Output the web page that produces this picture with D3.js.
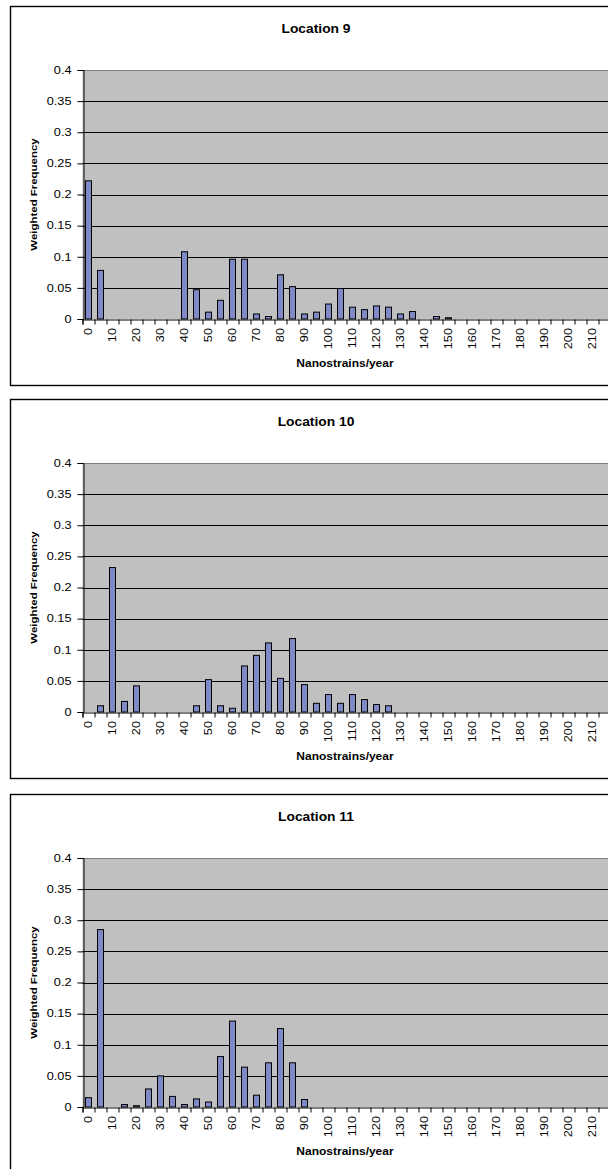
<!DOCTYPE html>
<html><head><meta charset="utf-8">
<script src="https://cdn.jsdelivr.net/npm/d3@7/dist/d3.min.js"></script>
<style>
body{margin:0;background:#fff}
svg{display:block}
text{font-family:"Liberation Sans",Arial,sans-serif;fill:#000}
</style>
</head><body>
<svg id="chart" width="608" height="1169"></svg>
<script>
// ---- data ----
const categories = [0,5,10,15,20,25,30,35,40,45,50,55,60,65,70,75,80,85,90,95,100,105,110,115,120,125,130,135,140,145,150,155,160,165,170,175,180,185,190,195,200,205,210,215];
const xTickLabels = [0,10,20,30,40,50,60,70,80,90,100,110,120,130,140,150,160,170,180,190,200,210];
const yTickValues = [0,0.05,0.1,0.15,0.2,0.25,0.3,0.35,0.4];
const yTickLabels = ["0","0.05","0.1","0.15","0.2","0.25","0.3","0.35","0.4"];
const titles = ["Location 9","Location 10","Location 11"];
const xTitle = "Nanostrains/year";
const yTitle = "Weighted Frequency";

const location9 = [0.222,0.078,0,0,0,0,0,0,0.108,0.047,0.011,0.030,0.096,0.096,0.008,0.004,0.071,0.052,0.008,0.011,0.024,0.049,0.019,0.015,0.021,0.019,0.008,0.012,0,0.004,0.002,0,0,0,0,0,0,0,0,0,0,0,0,0];
const location10 = [0,0.010,0.232,0.017,0.042,0,0,0,0,0.010,0.052,0.010,0.006,0.074,0.091,0.111,0.054,0.118,0.044,0.014,0.028,0.014,0.028,0.020,0.012,0.010,0,0,0,0,0,0,0,0,0,0,0,0,0,0,0,0,0,0];
const location11 = [0.015,0.285,0,0.004,0.002,0.029,0.050,0.017,0.004,0.013,0.008,0.081,0.138,0.064,0.019,0.071,0.126,0.071,0.012,0,0,0,0,0,0,0,0,0,0,0,0,0,0,0,0,0,0,0,0,0,0,0,0,0];
const seriesList = [location9, location10, location11];

// ---- layout ----
const panelTops = [6, 399, 794];
const panelLeft = 10, panelRight = 617, panelH = 379;
const plotLeft = 82.5, step = 12;
const plotTopOff = 64, plotBottomOff = 313;
const stretch = 1.25; // text is widened along its baseline in the original

const svg = d3.select("#chart");

seriesList.forEach((values, pi) => {
  const top = panelTops[pi];
  const g = svg.append("g");
  g.append("rect").attr("x", panelLeft + 0.5).attr("y", top + 0.5)
    .attr("width", panelRight - panelLeft).attr("height", panelH)
    .attr("fill", "#fff").attr("stroke", "#000").attr("stroke-width", 1.4);

  const y = d3.scaleLinear().domain([0, 0.4]).range([top + plotBottomOff, top + plotTopOff]);
  const x = d3.scaleBand().domain(categories)
    .range([plotLeft, plotLeft + step * categories.length])
    .paddingInner(0.5).paddingOuter(0.25);
  const xEdge = d3.scaleLinear().domain([0, categories.length])
    .range([plotLeft, plotLeft + step * categories.length]);
  const [xa, xb] = x.range();

  // plot background
  g.append("rect").attr("x", xa).attr("y", y(0.4)).attr("width", xb - xa)
    .attr("height", y(0) - y(0.4)).attr("fill", "#c0c0c0");

  // gridlines
  g.append("g").selectAll("line").data(yTickValues.filter(v => v > 0))
    .join("line")
    .attr("x1", xa).attr("x2", xb)
    .attr("y1", d => Math.round(y(d)) + 0.5).attr("y2", d => Math.round(y(d)) + 0.5)
    .attr("stroke", d => d === 0.4 ? "#808080" : "#000").attr("stroke-width", 1);

  // bars
  g.append("g").selectAll("rect").data(categories.map((c, i) => ({c, v: values[i]})).filter(d => d.v > 0))
    .join("rect")
    .attr("x", d => x(d.c)).attr("width", x.bandwidth())
    .attr("y", d => y(d.v)).attr("height", d => y(0) - y(d.v))
    .attr("fill", "#7f89c6").attr("stroke", "#000").attr("stroke-width", 1);

  // y axis
  const yAxis = d3.axisLeft(y).tickValues(yTickValues).tickSize(6).tickPadding(0)
    .tickFormat((d, i) => yTickLabels[i]);
  const ya = g.append("g").attr("transform", `translate(${Math.round(xa) + 0.5},0)`).call(yAxis);
  ya.select(".domain").attr("stroke", "#000");
  ya.selectAll(".tick line").attr("stroke", "#000");
  ya.selectAll(".tick text")
    .attr("font-size", 10.2).attr("font-family", "Liberation Sans, Arial, sans-serif")
    .attr("x", -12 / stretch)
    .attr("transform", `scale(${stretch},1)`);

  // x axis: boundary tick marks
  const xTickAxis = d3.axisBottom(xEdge).tickValues(d3.range(categories.length + 1)).tickSize(5).tickFormat("");
  const xt = g.append("g").attr("transform", `translate(0,${Math.round(y(0)) + 0.5})`).call(xTickAxis);
  xt.select(".domain").attr("stroke", "#000");
  xt.selectAll(".tick line").attr("stroke", "#000");

  // x axis labels
  const xLabAxis = d3.axisBottom(x).tickValues(xTickLabels).tickSize(0).tickPadding(0);
  const xl = g.append("g").attr("transform", `translate(0,${Math.round(y(0)) + 0.5})`).call(xLabAxis);
  xl.select(".domain").remove();
  xl.selectAll(".tick text")
    .attr("font-size", 10.2).attr("font-family", "Liberation Sans, Arial, sans-serif")
    .attr("text-anchor", "end").attr("dy", "0.35em")
    .attr("transform", `translate(0,8.5) rotate(-90) scale(${stretch},1)`).attr("y", 0).attr("x", 0);

  // titles
  g.append("text").attr("transform", `translate(316,${top + 26.5}) scale(1.15,1)`).attr("text-anchor", "middle")
    .attr("font-size", 12).attr("font-weight", "bold").text(titles[pi]);
  g.append("text").attr("transform", `translate(345,${y(0) + 47.5}) scale(1.2,1)`).attr("text-anchor", "middle")
    .attr("font-size", 10).attr("font-weight", "bold").text(xTitle);
  g.append("text").attr("transform", `translate(36.5,${(y(0) + y(0.4)) / 2}) rotate(-90) scale(1.22,1)`)
    .attr("text-anchor", "middle").attr("font-size", 9.4).attr("font-weight", "bold").text(yTitle);
});
</script>
</body></html>
